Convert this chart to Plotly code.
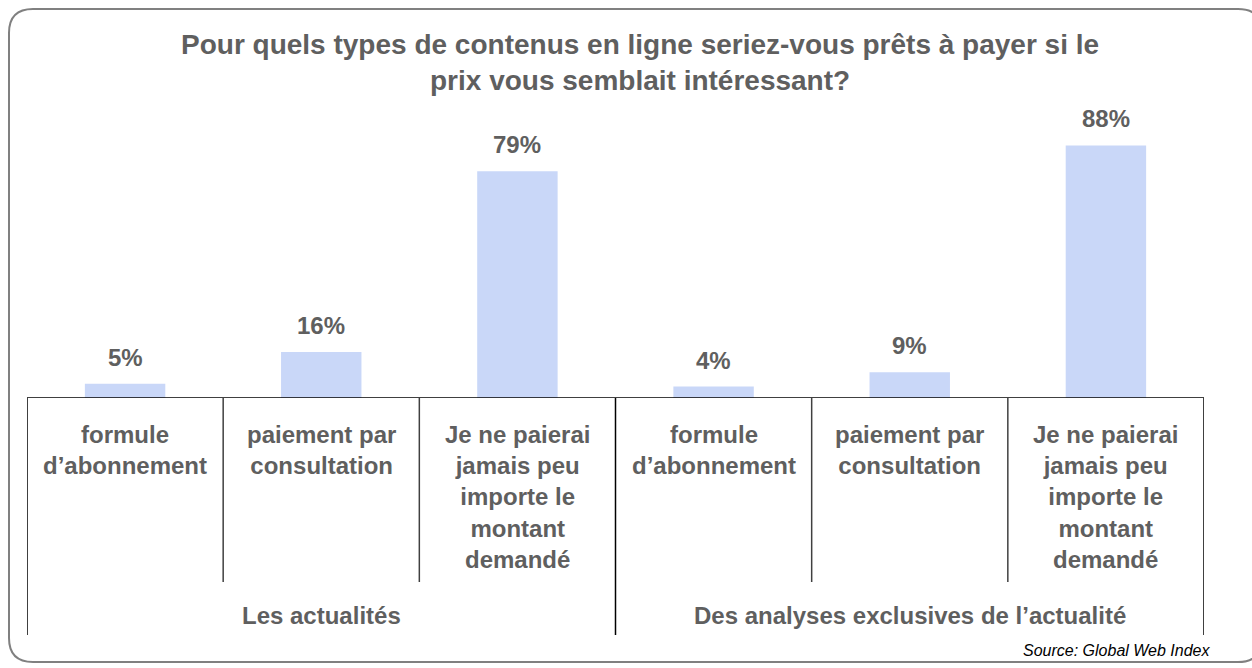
import plotly.graph_objects as go

title_lines = ["Pour quels types de contenus en ligne seriez-vous prêts à payer si le",
               "prix vous semblait intéressant?"]
categories = ["formule<br>d’abonnement", "paiement par<br>consultation",
              "Je ne paierai<br>jamais peu<br>importe le<br>montant<br>demandé"] * 2
groups = ["Les actualités", "Des analyses exclusives de l’actualité"]
values = [5, 16, 79, 4, 9, 88]
value_labels = ["5%", "16%", "79%", "4%", "9%", "88%"]
source = "Source: Global Web Index"

W, H = 1252, 668
L, R, T, B = 27, 48, 111, 270
PW, PH = W - L - R, H - T - B
GRAY = "#5f5f5f"
FONT = "Liberation Sans, Arial, sans-serif"

def px(xp):
    return (xp - L) / PW

def py(yp):
    return (T + PH - yp) / PH

xs = list(range(len(values)))

fig = go.Figure(go.Bar(x=xs, y=values, width=0.41, marker=dict(color="#C9D7F8", line=dict(width=0)),
                       hoverinfo="skip"))

ann = []
for i, (v, t) in enumerate(zip(values, value_labels)):
    ann.append(dict(x=i, y=v, yref="y", xref="x", text=t, showarrow=False, yanchor="bottom",
                    yshift=11, font=dict(family=FONT, size=24, color=GRAY, weight="bold")))
for i, c in enumerate(categories):
    ann.append(dict(x=i, y=py(419), xref="x", yref="paper", text=c, showarrow=False, yanchor="top",
                    font=dict(family=FONT, size=24, color=GRAY, weight="bold")))
for g, gname in enumerate(groups):
    ann.append(dict(x=g * 3 + 1, y=py(615), xref="x", yref="paper", text=gname, showarrow=False,
                    yanchor="middle", font=dict(family=FONT, size=24, color=GRAY, weight="bold")))
for k, line in enumerate(title_lines):
    ann.append(dict(x=px(640), y=py(45 + 35 * k), xref="paper", yref="paper", text=line, showarrow=False,
                    yanchor="middle", xanchor="center",
                    font=dict(family=FONT, size=28, color=GRAY, weight="bold")))
ann.append(dict(x=px(1212), y=py(650), xref="paper", yref="paper", text=source, showarrow=False,
                xanchor="right", yanchor="middle",
                font=dict(family=FONT, size=16, color="#000000", style="italic")))

shapes = []
# axis baseline
shapes.append(dict(type="line", xref="x", yref="y", x0=-0.5, x1=len(values) - 0.5, y0=0, y1=0,
                   line=dict(color="#000000", width=1.5)))
# separators
for b in range(len(values) + 1):
    xb = b - 0.5
    long_ = b % 3 == 0
    shapes.append(dict(type="line", xref="x", yref="paper", x0=xb, x1=xb, y0=0,
                       y1=py(635 if long_ else 582),
                       line=dict(color="#000000" if long_ else "#404040", width=1.5)))
# rounded frame
x0, y0, x1, y1, r = 9, 9, 1262, 662, 24
path = (f"M {px(x0)},{py(y0 + r)} L {px(x0)},{py(y1 - r)} Q {px(x0)},{py(y1)} {px(x0 + r)},{py(y1)} "
        f"L {px(x1 - r)},{py(y1)} Q {px(x1)},{py(y1)} {px(x1)},{py(y1 - r)} "
        f"L {px(x1)},{py(y0 + r)} Q {px(x1)},{py(y0)} {px(x1 - r)},{py(y0)} "
        f"L {px(x0 + r)},{py(y0)} Q {px(x0)},{py(y0)} {px(x0)},{py(y0 + r)} Z")
shapes.append(dict(type="path", xref="paper", yref="paper", path=path,
                   line=dict(color="#808080", width=2), layer="below"))

fig.update_layout(
    width=W, height=H, margin=dict(l=L, r=R, t=T, b=B),
    paper_bgcolor="white", plot_bgcolor="white", showlegend=False,
    xaxis=dict(range=[-0.5, len(values) - 0.5], visible=False, fixedrange=True),
    yaxis=dict(range=[0, 100], visible=False, fixedrange=True),
    annotations=ann, shapes=shapes,
)
fig.write_html("out.html", config={"displayModeBar": False},
               post_script="document.body.style.margin='0';document.body.style.overflow='hidden';")
